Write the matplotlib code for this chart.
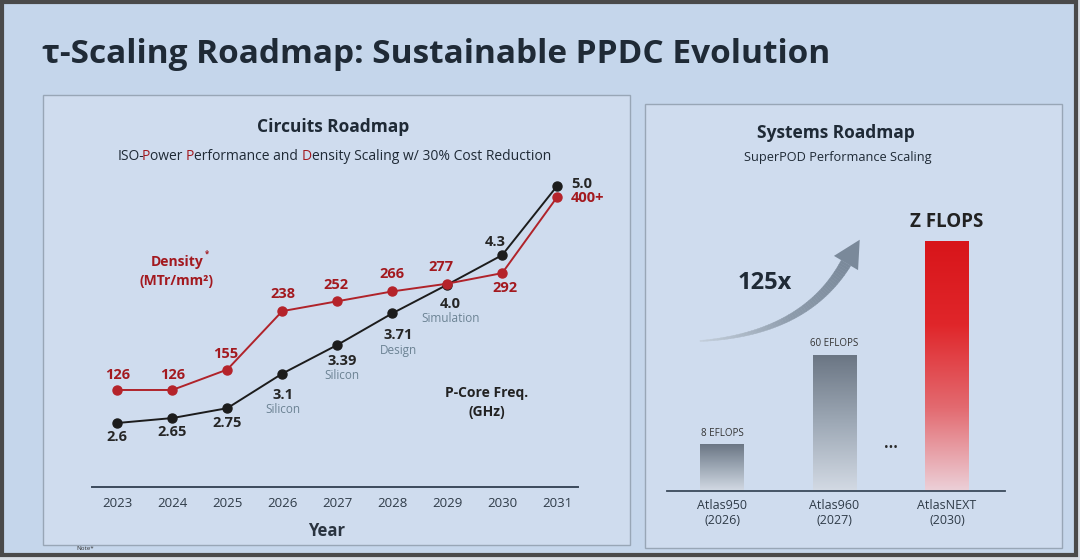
import numpy as np
import matplotlib
matplotlib.use("Agg")
import matplotlib.pyplot as plt
from matplotlib.patches import Rectangle, Polygon
from matplotlib.collections import PolyCollection
from matplotlib.colors import LinearSegmentedColormap

plt.rcParams['font.family'] = ['Open Sans', 'DejaVu Sans']

# ---- data ----
years = [2023, 2024, 2025, 2026, 2027, 2028, 2029, 2030, 2031]
density = [126, 126, 155, 238, 252, 266, 277, 292, 400]
density_labels = ["126", "126", "155", "238", "252", "266", "277", "292", "400+"]
freq = [2.6, 2.65, 2.75, 3.1, 3.39, 3.71, 4.0, 4.3, 5.0]
freq_labels = ["2.6", "2.65", "2.75", "3.1", "3.39", "3.71", "4.0", "4.3", "5.0"]
freq_notes = ["", "", "", "Silicon", "Silicon", "Design", "Simulation", "", ""]

systems = ["Atlas950\n(2026)", "Atlas960\n(2027)", "AtlasNEXT\n(2030)"]
system_labels = ["8 EFLOPS", "60 EFLOPS", "Z FLOPS"]
system_heights = [47, 136, 250]   # drawn (schematic) heights

W, H = 1080, 560
BG = '#c5d6eb'
PANEL = '#cfdcee'
RED = '#a3191f'
DARK = '#1f2a36'
GREY_NOTE = '#6c8394'


def box(x0, y0, x1, y1):
    return [x0 / W, 1 - y1 / H, (x1 - x0) / W, (y1 - y0) / H]


fig = plt.figure(figsize=(10.8, 5.6), dpi=100)
fig.patch.set_facecolor('#d9dee4')
renderer = fig.canvas.get_renderer()

bg = fig.add_axes([0, 0, 1, 1])
bg.set_xlim(0, W)
bg.set_ylim(H, 0)
bg.axis('off')


def text_w(s, **kw):
    t = bg.text(0, 0, s, **kw)
    w = t.get_window_extent(renderer).width
    t.remove()
    return w


# slide + frame
bg.add_patch(Rectangle((1.5, 1.5), 1074, 553, facecolor=BG, edgecolor='#4a4a4a', lw=3))
# panels
bg.add_patch(Rectangle((43, 95), 587, 450, facecolor=PANEL, edgecolor='#98a6b6', lw=1))
bg.add_patch(Rectangle((645, 104), 417, 444, facecolor=PANEL, edgecolor='#98a6b6', lw=1))

bg.text(42, 63, "τ-Scaling Roadmap: Sustainable PPDC Evolution", fontsize=24,
        fontweight='bold', color=DARK, va='baseline', ha='left')
bg.text(85, 549, "Note*", fontsize=4.5, color='#333', ha='center', va='center')

# ---- left panel titles ----
bg.text(333, 127, "Circuits Roadmap", fontsize=12.5, fontweight='bold', color=DARK,
        ha='center', va='center')

pieces = [("ISO-", DARK), ("P", RED), ("ower ", DARK), ("P", RED),
          ("erformance and ", DARK), ("D", RED), ("ensity Scaling w/ 30% Cost Reduction", DARK)]
sub_fs = 10
full = "".join(p for p, c in pieces)
x0 = 333 - text_w(full, fontsize=sub_fs) / 2
bar_w = text_w("|", fontsize=sub_fs)
prefix = ""
for k, (s, c) in enumerate(pieces):
    xo = text_w(prefix + "|", fontsize=sub_fs) - bar_w if prefix else 3
    bg.text(x0 + xo, 157, s, fontsize=sub_fs, color=c, ha='left', va='center')
    prefix += s

bg.text(177, 262, "Density", fontsize=10, fontweight='bold', color=RED, ha='center', va='center')
bg.text(207, 254, "*", fontsize=5.5, fontweight='bold', color=RED, ha='center', va='center')
bg.text(177, 281, "(MTr/mm²)", fontsize=10, fontweight='bold', color=RED, ha='center', va='center')
bg.text(487, 393, "P-Core Freq.", fontsize=10, fontweight='bold', color='#222', ha='center', va='center')
bg.text(487, 412, "(GHz)", fontsize=10, fontweight='bold', color='#222', ha='center', va='center')
bg.text(327, 531, "Year", fontsize=12, fontweight='bold', color='#2a3440', ha='center', va='center')

# ---- line chart ----
ax = fig.add_axes(box(92, 170, 578, 487))
ax.set_xlim(2022.54, 2031.38)
ax.set_ylim(1.952, 5.162)
ax2 = ax.twinx()
ax2.set_ylim(-11.8, 438.5)
for a in (ax, ax2):
    a.patch.set_alpha(0)
    for sp in a.spines.values():
        sp.set_visible(False)
    a.set_yticks([])
ax.spines['bottom'].set_visible(True)
ax.spines['bottom'].set_color('#3b4a5b')
ax.spines['bottom'].set_linewidth(1.4)
ax.set_xticks(years)
ax.set_xticklabels([str(y) for y in years], fontsize=9.5, color='#2f3b48')
ax.tick_params(axis='x', length=0, pad=7)
ax2.tick_params(length=0)

ax.plot(years, freq, color='#1c1c1c', lw=1.4, marker='o', ms=6.5, zorder=3)
ax2.plot(years, density, color='#b0232a', lw=1.4, marker='o', ms=6.5, zorder=3,
         markerfacecolor='#b5232a', markeredgecolor='#b5232a')

# label offsets (pixels) -- style only
red_off = [(0, 15), (0, 15), (-2, 16), (1, 17), (-1, 16), (0, 17), (-6, 17), (3, -15), (14, -1)]
for i, (x, v) in enumerate(zip(years, density)):
    dx, dy = red_off[i]
    ha = 'left' if i == len(years) - 1 else 'center'
    ax2.annotate(density_labels[i], (x, v), xytext=(dx, dy), textcoords='offset pixels',
                 ha=ha, va='center', fontsize=10.5, fontweight='bold', color=RED)

blk_off = [(0, -14), (0, -14), (0, -15), (1, -21), (5, -16), (6, -22), (3, -19), (-7, 13), (14, 2)]
for i, (x, v) in enumerate(zip(years, freq)):
    dx, dy = blk_off[i]
    ha = 'left' if i == len(years) - 1 else 'center'
    ax.annotate(freq_labels[i], (x, v), xytext=(dx, dy), textcoords='offset pixels',
                ha=ha, va='center', fontsize=10.5, fontweight='bold', color='#262626')
    if freq_notes[i]:
        ax.annotate(freq_notes[i], (x, v), xytext=(dx, dy - 15), textcoords='offset pixels',
                    ha='center', va='center', fontsize=8.5, color=GREY_NOTE)

# ---- right panel ----
bg.text(836, 133, "Systems Roadmap", fontsize=12.5, fontweight='bold', color=DARK,
        ha='center', va='center')
bg.text(838, 158, "SuperPOD Performance Scaling", fontsize=9.2, color=DARK,
        ha='center', va='center')

axb = fig.add_axes(box(667, 200, 1005, 491))
axb.patch.set_alpha(0)
for sp in axb.spines.values():
    sp.set_visible(False)
axb.spines['bottom'].set_visible(True)
axb.spines['bottom'].set_color('#3b4a5b')
axb.spines['bottom'].set_linewidth(1.3)
axb.set_yticks([])
xs = np.arange(len(systems))
bars = axb.bar(xs, system_heights, width=0.39, facecolor='none', edgecolor='none')
cm_grey = LinearSegmentedColormap.from_list('g', ['#d3dae4', '#9ea9b6', '#6b7684'])
cm_red = LinearSegmentedColormap.from_list('r', ['#ecd0d8', '#e36a70', '#e0262a', '#d8151a'])
grad = np.linspace(0, 1, 256).reshape(-1, 1)
for i, b in enumerate(bars):
    cm = cm_red if i == len(bars) - 1 else cm_grey
    im = axb.imshow(grad, cmap=cm, origin='lower', aspect='auto',
                    extent=[b.get_x(), b.get_x() + b.get_width(), 0, b.get_height()], zorder=2)
    im.set_clip_path(b)
axb.set_xlim(-0.489, 2.516)
axb.set_ylim(0, 291)
axb.set_xticks(xs)
axb.set_xticklabels(systems, fontsize=9, color='#2f3b48', linespacing=1.2)
axb.tick_params(axis='x', length=0, pad=6)
for i, b in enumerate(bars):
    if i == len(bars) - 1:
        axb.annotate(system_labels[i], (b.get_x() + b.get_width() / 2, b.get_height()),
                     xytext=(0, 19), textcoords='offset pixels', ha='center', va='center',
                     fontsize=13.5, fontweight='bold', color='#222')
    else:
        axb.annotate(system_labels[i], (b.get_x() + b.get_width() / 2, b.get_height()),
                     xytext=(0, 11), textcoords='offset pixels', ha='center', va='center',
                     fontsize=7, color='#333')
axb.text(1.5, 44, "•••", ha='center', va='center', fontsize=9, color='#2a2a2a')

# curved tapered "125x" arrow (decoration, pixel coords)
p0, c1, p2 = np.array([700., 341.]), np.array([805., 334.]), np.array([846., 263.])
ts = np.linspace(0, 1, 60)
pts = np.array([(1 - t) ** 2 * p0 + 2 * (1 - t) * t * c1 + t ** 2 * p2 for t in ts])
tang = np.gradient(pts, axis=0)
tang /= np.linalg.norm(tang, axis=1)[:, None]
norm = np.stack([-tang[:, 1], tang[:, 0]], axis=1)
half = 0.5 + 5.0 * ts
left = pts + norm * half[:, None]
right = pts - norm * half[:, None]
quads = [[left[k], left[k + 1], right[k + 1], right[k]] for k in range(len(ts) - 1)]
cm_arrow = LinearSegmentedColormap.from_list('a', ['#c3ceda', '#8d9bab', '#7a899a'])
cols = [cm_arrow(t) for t in ts[:-1]]
bg.add_collection(PolyCollection(quads, facecolors=cols, edgecolors=cols, lw=0.3))
tdir, ndir = tang[-1], norm[-1]
head = [p2 + ndir * 14, p2 + tdir * 27, p2 - ndir * 14]
bg.add_patch(Polygon(head, closed=True, facecolor='#7a899a', edgecolor='none'))
bg.text(765, 283, "125x", fontsize=17, fontweight='bold', color='#1f2a36', ha='center', va='center')

fig.savefig('out.png', dpi=100, facecolor=fig.get_facecolor())
